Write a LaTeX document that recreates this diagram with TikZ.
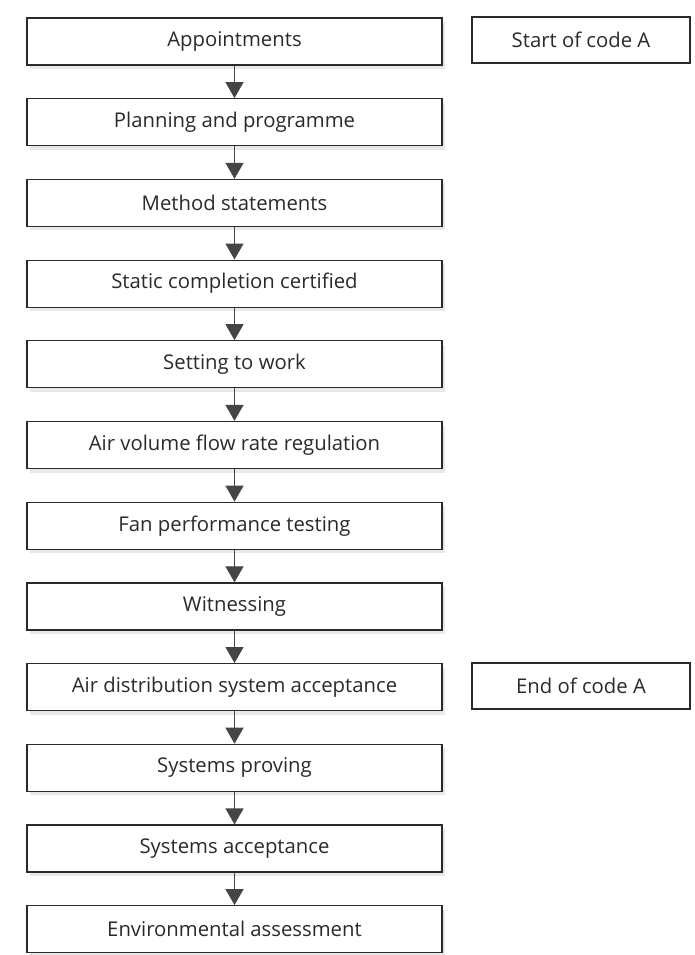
\documentclass[tikz,border=0pt]{standalone}
\usepackage{fontspec}
\setmainfont{Open Sans}
\usetikzlibrary{arrows.meta,shadows}
\definecolor{ink}{HTML}{2A2A2A}
\definecolor{arrowgrey}{HTML}{454545}
\tikzset{
  stage/.style={draw=ink, line width=1.2pt, fill=white, minimum width=415pt,
    minimum height=47pt, inner sep=0pt, text=ink, font=\fontsize{20.3}{23}\selectfont,
    drop shadow={shadow xshift=3pt, shadow yshift=-4pt, fill=gray!45, opacity=0.4}},
  marker/.style={draw=ink, line width=1.2pt, fill=white, minimum width=218pt,
    minimum height=46pt, inner sep=0pt, text=ink, font=\fontsize{20.3}{23}\selectfont},
  flow/.style={draw=arrowgrey, line width=1.3pt,
    -{Triangle[width=18pt,length=16pt,fill=arrowgrey]}}
}
\begin{document}
\begin{tikzpicture}[x=1pt,y=-1pt]
  \useasboundingbox (0,0) rectangle (694,955);
  \fill[white] (0,0) rectangle (694,955);
  % commissioning stages, top to bottom
  \foreach \i/\txt in {1/Appointments, 2/Planning and programme, 3/Method statements,
      4/Static completion certified, 5/Setting to work, 6/Air volume flow rate regulation,
      7/Fan performance testing, 8/Witnessing, 9/Air distribution system acceptance,
      10/Systems proving, 11/Systems acceptance, 12/Environmental assessment}
    \node[stage] (b\i) at (234.5, {41.5+80.7*(\i-1)}) {\txt};
  % links between consecutive stages
  \foreach \i [evaluate=\i as \j using int(\i+1)] in {1,...,11}
    \draw[flow] (b\i.south) -- (b\j.north);
  % code A markers
  \node[marker] (startA) at (581, 40) {Start of code A};
  \node[marker] (endA) at (581, 686) {End of code A};
\end{tikzpicture}
\end{document}
